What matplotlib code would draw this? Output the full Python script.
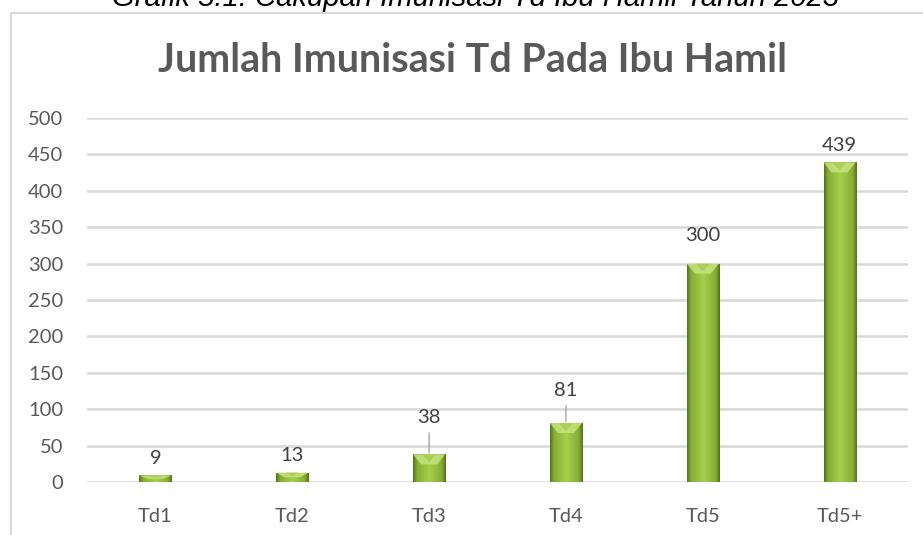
import numpy as np
import matplotlib
matplotlib.use("Agg")
import matplotlib.pyplot as plt
from matplotlib.colors import LinearSegmentedColormap
from matplotlib.patches import Rectangle, Polygon

# data
categories = ["Td1", "Td2", "Td3", "Td4", "Td5", "Td5+"]
values = [9, 13, 38, 81, 300, 439]
yticks = [0, 50, 100, 150, 200, 250, 300, 350, 400, 450, 500]

# label offsets above bar top (pixels); leader line where the label sits high
label_offsets = [17, 17, 37, 33, 28, 17]
leaders = [False, False, True, True, False, False]

caption = "Grafik 5.1. Cakupan Imunisasi Td Ibu Hamil Tahun 2023"
title = "Jumlah Imunisasi Td Pada Ibu Hamil"

W, H = 923, 535
fig = plt.figure(figsize=(W / 100, H / 100), dpi=100)
fig.patch.set_facecolor("white")
renderer = fig.canvas.get_renderer()


def fit_size(txt, width_px, **kw):
    # pick a font size so the text is about width_px wide
    t = fig.text(0, 0, txt, fontsize=20, **kw)
    w = t.get_window_extent(renderer).width
    t.remove()
    return 20 * width_px / w


# chart frame (runs off the right and bottom edges)
fig.patches.append(Rectangle((11 / W, -0.2), 1.2, (H - 13) / H + 0.2,
                             transform=fig.transFigure, fill=False,
                             edgecolor="#D9D9D9", lw=1.5))

cap_kw = dict(family="Liberation Sans", style="italic")
fig.text(475 / W, 1 - 6 / H, caption, ha="center", va="baseline",
         fontsize=fit_size(caption, 726, **cap_kw), color="black", **cap_kw)
title_kw = dict(family="Lato", weight="bold")
fig.text(472 / W, 1 - 72 / H, title, ha="center", va="baseline",
         fontsize=fit_size(title, 629, **title_kw), color="#595959", **title_kw)

tick_size = fit_size("500", 35, family="Lato")

ax = fig.add_axes([87 / W, 1 - 482 / H, (908 - 87) / W, (482 - 118) / H])
ax.set_ylim(0, 500)
ax.set_xlim(-0.5, len(categories) - 0.5)
ax.set_yticks(yticks)
ax.set_xticks(range(len(categories)))
ax.set_xticklabels(categories)
for s in ax.spines.values():
    s.set_visible(False)
ax.tick_params(length=0, labelsize=tick_size, labelcolor="#595959")
ax.tick_params(axis="y", pad=17)
ax.tick_params(axis="x", pad=19)
for lab in ax.get_xticklabels() + ax.get_yticklabels():
    lab.set_family("Lato")
ax.yaxis.grid(True, color="#D9D9D9", lw=1.8)
ax.set_axisbelow(True)

cmap = LinearSegmentedColormap.from_list(
    "bev", [(0, "#55731a"), (0.12, "#84ae35"), (0.5, "#a6cf4c"),
            (0.88, "#84ae35"), (1, "#55731a")])
grad = np.linspace(0, 1, 64).reshape(1, -1)

bw = 0.234
px_per_unit = (482 - 118) / 500
px_per_cat = (908 - 87) / len(categories)

bars = ax.bar(range(len(categories)), values, width=bw, color="none", zorder=2)
for i, (b, v) in enumerate(zip(bars, values)):
    x0 = b.get_x()
    im = ax.imshow(grad, cmap=cmap, aspect="auto", zorder=3,
                   extent=(x0, x0 + bw, 0, v), interpolation="bilinear")
    im.set_clip_path(b)
    # top bevel
    bh = min(10, v * px_per_unit / 2) / px_per_unit
    dx = 8 / px_per_cat
    ax.add_patch(Polygon([(x0, v), (x0 + bw, v), (x0 + bw - dx, v - bh),
                          (x0 + dx, v - bh)], closed=True,
                         facecolor="#c6e47e", edgecolor="none", alpha=0.85,
                         zorder=4))
    ax.add_patch(Polygon([(i - dx * 0.9, v), (i + dx * 0.9, v), (i, v - bh * 0.8)],
                         closed=True, facecolor="#9cc545", edgecolor="none",
                         alpha=0.6, zorder=4))

    kw = {}
    if leaders[i]:
        kw["arrowprops"] = dict(arrowstyle="-", color="#A6A6A6", lw=1,
                                shrinkA=3, shrinkB=1)
    ax.annotate(str(v), xy=(i, v), xytext=(0, label_offsets[i]),
                textcoords="offset pixels", ha="center", va="center",
                fontsize=tick_size, family="Lato", color="#404040", **kw)

fig.savefig("out.png", dpi=100)
